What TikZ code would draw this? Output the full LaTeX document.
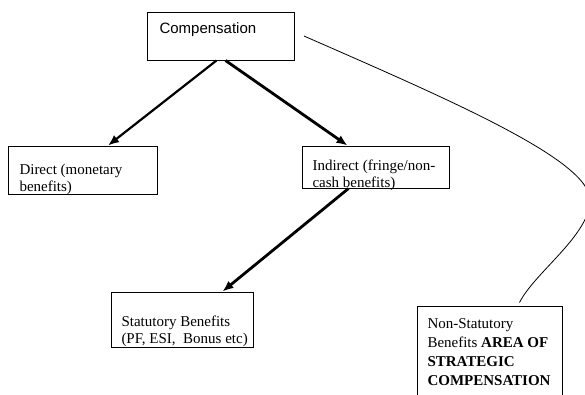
\documentclass[tikz,border=0pt]{standalone}
\usepackage{fontspec}
\setmainfont{Liberation Serif}
\newfontfamily\arialfont{Liberation Sans}
\usepackage{tikz}
\usetikzlibrary{arrows.meta,positioning,calc}
\newcommand{\boxlines}[2]{\parbox[t]{#1}{\raggedright #2}}
\tikzset{
  plainbox/.style={draw=black,line width=1pt,anchor=base west,
              inner xsep=10pt,inner ysep=0pt,font=\fontsize{15}{17.3}\selectfont},
  flow/.style={-{Latex[length=11pt,width=9pt]},line width=2.2pt},
  heavyflow/.style={-{Latex[length=11pt,width=9pt]},line width=2.8pt},
  link/.style={line width=0.8pt}
}

\begin{document}
\begin{tikzpicture}[x=1pt,y=-1pt]
  \clip (0,0) rectangle (585,394);
  \node[plainbox,inner xsep=12pt,text height=21pt,text depth=27pt,
        font=\arialfont\fontsize{15}{18}\selectfont] (comp) at (147,33)
        {\boxlines{123pt}{Compensation}};
  \node[plainbox,inner xsep=11pt,text height=28pt,text depth=20pt]
        (direct) at (8,174) {\boxlines{127pt}{Direct (monetary\\benefits)}};
  \node[plainbox,text height=24pt,text depth=18pt]
        (indirect) at (302,170) {\boxlines{127pt}{Indirect (fringe/non-\\cash benefits)}};
  \node[plainbox,text height=34pt,text depth=21pt]
        (stat) at (111,326)
        {\boxlines{122pt}{Statutory Benefits\\\mbox{(PF, ESI,\ \ Bonus etc)}}};
  \node[plainbox,text height=22pt,text depth=72pt,
        font=\fontsize{15}{19.3}\selectfont]
        (nonstat) at (417,328) {\boxlines{125pt}{Non-Statutory\\Benefits \textbf{AREA OF}\\
        \textbf{STRATEGIC}\\\textbf{COMPENSATION}}};
  \draw[flow] ([xshift=-4.5pt]comp.south) -- ([xshift=25pt]direct.north);
  \draw[heavyflow] ([xshift=4.5pt]comp.south) -- ([xshift=-28.5pt]indirect.north);
  \draw[heavyflow] ([xshift=-27.5pt]indirect.south) -- ([xshift=40pt]stat.north);
  \draw[link] ([xshift=9pt]comp.east) .. controls (450,100) and (590,160) .. (590,200)
    .. controls (590,235) and (535,272) .. ([xshift=29.5pt,yshift=3pt]nonstat.north);
\end{tikzpicture}
\end{document}
